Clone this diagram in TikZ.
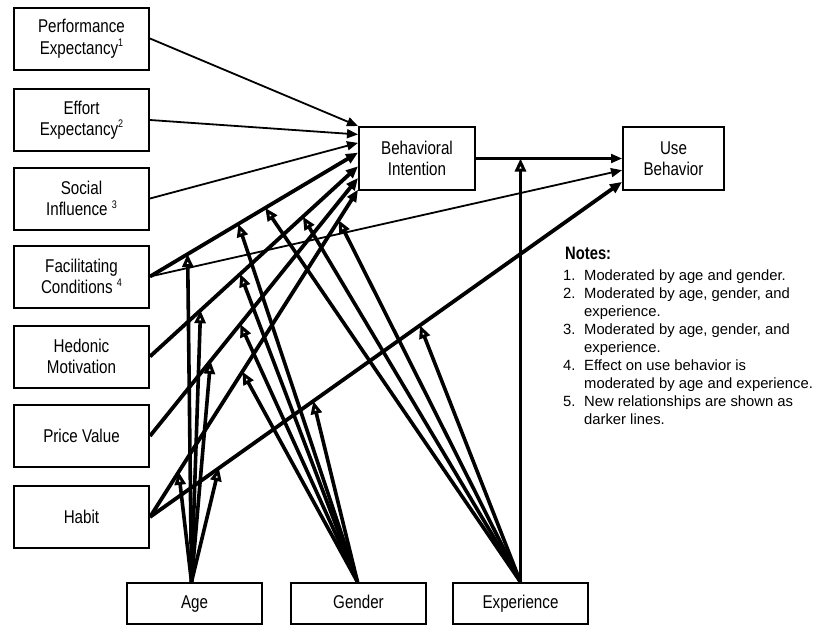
\documentclass[tikz,border=0pt]{standalone}
\usepackage{fontspec}
\setmainfont{Liberation Sans}[FakeStretch=0.82]
\newfontfamily\notefont{Liberation Sans}
\usetikzlibrary{arrows.meta,calc}
\newcommand\mysup[1]{\raisebox{0.42em}{\fontsize{11}{11}\selectfont #1}}
\begin{document}
\begin{tikzpicture}[x=1pt,y=-1pt,
  box/.style={draw,line width=2pt,inner sep=0pt,align=center,font=\fontsize{18.5}{21.5}\selectfont},
  lbox/.style={box,minimum width=135pt,minimum height=62pt},
  bbox/.style={box,minimum width=135pt,minimum height=41pt,text height=13.5pt,text depth=3.5pt},
  thinarr/.style={line width=1.8pt,-{Triangle[length=11pt,width=9pt]}},
  midarr/.style={line width=2.1pt,-{Triangle[length=11pt,width=9pt]}},
  thickarr/.style={line width=3.8pt,-{Triangle[length=12pt,width=10pt]}},
  modarr/.style={line width=3.6pt,-{Triangle[open,length=13pt,width=11pt,line width=3pt]}}
]
\useasboundingbox (0,0) rectangle (828,625);

% boxes
\node[lbox] (pe) at (81.5,38.5) {Performance\\Expectancy\mysup{1}};
\node[lbox] (ee) at (81.5,120) {Effort\\Expectancy\mysup{2}};
\node[lbox] (si) at (81.5,198.5) {Social\\Influence \mysup{3}};
\node[lbox] (fc) at (81.5,276.5) {Facilitating\\Conditions \mysup{4}};
\node[lbox] (hm) at (81.5,356.5) {Hedonic\\Motivation};
\node[lbox] (pv) at (81.5,436) {Price Value};
\node[lbox] (hb) at (81.5,517) {Habit};
\node[box,minimum width=116pt,minimum height=63pt] (bi) at (417,158.5) {Behavioral\\Intention};
\node[box,minimum width=101pt,minimum height=63pt] (ub) at (673.5,158.5) {Use\\Behavior};
\node[bbox] (age) at (194.5,603.5) {Age};
\node[bbox] (gen) at (358.5,603.5) {Gender};
\node[bbox] (exp) at (520.5,603.5) {Experience};

% end points on Behavioral Intention
\coordinate (b1) at ($(bi.north west)!0.00!(bi.south west)$);
\coordinate (b2) at ($(bi.north west)!0.13!(bi.south west)$);
\coordinate (b3) at ($(bi.north west)!0.26!(bi.south west)$);
\coordinate (b4) at ($(bi.north west)!0.41!(bi.south west)$);
\coordinate (b5) at ($(bi.north west)!0.62!(bi.south west)$);
\coordinate (b6) at ($(bi.north west)!0.80!(bi.south west)$);
\coordinate (b7) at ($(bi.north west)!0.98!(bi.south west)$);
% end points on Use Behavior
\coordinate (u1) at (ub.west);
\coordinate (u2) at ($(ub.north west)!0.68!(ub.south west)$);
\coordinate (u3) at ($(ub.north west)!0.86!(ub.south west)$);

% main paths
\draw[thinarr] (pe.east) -- (b1);
\draw[thinarr] (ee.east) -- (b2);
\draw[thinarr] (si.east) -- (b3);
\draw[thickarr] (fc.east) -- (b4);
\draw[thickarr] (hm.east) -- (b5);
\draw[thickarr] (pv.east) -- (b6);
\draw[thickarr] (hb.east) -- (b7);
\draw[midarr] (bi.east) -- (u1);
\draw[thinarr] (fc.east) -- (u2);
\draw[thickarr] (hb.east) -- (u3);

% moderation targets
\coordinate (fcA) at ($(fc.east)!0.181!(b4)$);
\coordinate (fcG) at ($(fc.east)!0.425!(b4)$);
\coordinate (fcE) at ($(fc.east)!0.554!(b4)$);
\coordinate (hmA) at ($(hm.east)!0.243!(b5)$);
\coordinate (hmG) at ($(hm.east)!0.434!(b5)$);
\coordinate (hmE) at ($(hm.east)!0.735!(b5)$);
\coordinate (pvA) at ($(pv.east)!0.291!(b6)$);
\coordinate (pvG) at ($(pv.east)!0.434!(b6)$);
\coordinate (hbA) at ($(hb.east)!0.138!(b7)$);
\coordinate (hbG) at ($(hb.east)!0.444!(b7)$);
\coordinate (hbE) at ($(hb.east)!0.907!(b7)$);
\coordinate (huA) at ($(hb.east)!0.146!(u3)$);
\coordinate (huG) at ($(hb.east)!0.346!(u3)$);
\coordinate (huE) at ($(hb.east)!0.572!(u3)$);
\coordinate (buE) at (bi.east -| exp.north);

\coordinate (agetop) at ($(age.north)+(-3,0)$);
\coordinate (gentop) at ($(gen.north)+(-1,0)$);
\coordinate (exptop) at (exp.north);

% age
\draw[modarr] (agetop) -- (fcA);
\draw[modarr] (agetop) -- (hmA);
\draw[modarr] (agetop) -- (pvA);
\draw[modarr] (agetop) -- (hbA);
\draw[modarr] (agetop) -- (huA);
% gender
\draw[modarr] (gentop) -- (fcG);
\draw[modarr] (gentop) -- (hmG);
\draw[modarr] (gentop) -- (pvG);
\draw[modarr] (gentop) -- (hbG);
\draw[modarr] (gentop) -- (huG);
% experience
\draw[modarr] (exptop) -- (fcE);
\draw[modarr] (exptop) -- (hmE);
\draw[modarr] (exptop) -- (hbE);
\draw[modarr] (exptop) -- (huE);
\draw[modarr] (exptop) -- (buE);

% notes
\node[anchor=base west,inner sep=0pt,font=\bfseries\fontsize{18}{20}\selectfont] (notes) at (565,259) {Notes:};
\node[anchor=base west,inner sep=0pt,font=\notefont\fontsize{14.8}{18}\selectfont] (list) at (563,280.5) {%
\begin{tabular}[t]{@{}l@{}l@{}}
\makebox[21pt][l]{1.} & Moderated by age and gender.\\
\makebox[21pt][l]{2.} & Moderated by age, gender, and\\
 & experience.\\
\makebox[21pt][l]{3.} & Moderated by age, gender, and\\
 & experience.\\
\makebox[21pt][l]{4.} & Effect on use behavior is\\
 & moderated by age and experience.\\
\makebox[21pt][l]{5.} & New relationships are shown as\\
 & darker lines.
\end{tabular}};
\end{tikzpicture}
\end{document}
